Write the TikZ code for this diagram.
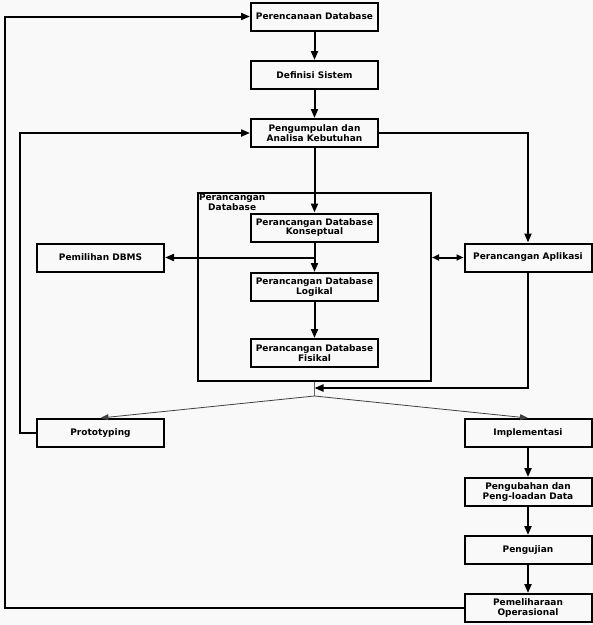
\documentclass[tikz,border=0pt]{standalone}
\usepackage{fontspec}
\setsansfont{DejaVu Sans}
\usetikzlibrary{arrows.meta}
\definecolor{paper}{RGB}{249,249,249}

\begin{document}
\begin{tikzpicture}[x=1pt, y=-1pt, line width=2pt, >={Triangle[length=9pt,width=7pt]},
    font=\sffamily\bfseries\fontsize{9}{9.5}\selectfont]
    \tikzstyle{stage}=[draw, fill=paper, minimum width=127pt, minimum height=28pt, inner sep=1pt, align=center]
    \tikzstyle{flow}=[->]
    \tikzstyle{thin flow}=[->, line width=0.8pt, draw=black!75, >={Triangle[length=8pt,width=6pt]}]
    \def\leftcol{100.5}
    \def\rightcol{528}
    \def\midcol{314.5}

    % Background and page size
    \fill[paper] (0,0) rectangle (593,625);
    \useasboundingbox (0,0) rectangle (593,625);

    % Draw the main column
    \node[stage] (plan) at (\midcol,16.5) {Perencanaan Database};
    \node[stage] (defsys) at (\midcol,75) {Definisi Sistem};
    \node[stage] (reqs) at (\midcol,133) {Pengumpulan dan\\Analisa Kebutuhan};

    % Draw the database design frame
    \node[draw, minimum width=233pt, minimum height=188pt] (frame) at (\midcol,287) {};
    \node[anchor=north west, align=center, inner sep=1pt] (framelabel) at (frame.north west) {Perancangan\\Database};

    % Draw the stages inside the frame
    \node[stage] (konsep) at (\midcol,227.5) {Perancangan Database\\Konseptual};
    \node[stage] (logika) at (\midcol,287) {Perancangan Database\\Logikal};
    \node[stage] (fisik) at (\midcol,353) {Perancangan Database\\Fisikal};

    % Draw the side stages
    \node[stage] (dbms) at (\leftcol,257.5) {Pemilihan DBMS};
    \node[stage] (aplikasi) at (\rightcol,257.5) {Perancangan Aplikasi};
    \node[stage] (proto) at (\leftcol,433) {Prototyping};

    % Draw the right column after the split
    \foreach \name/\y/\txt in {impl/433/{Implementasi}, ubah/492/{Pengubahan dan\\Peng-loadan Data},
        uji/550/{Pengujian}, pelihara/608/{Pemeliharaan\\Operasional}}
        \node[stage] (\name) at (\rightcol,\y) {\txt};

    % Join points and loop lanes
    \coordinate (branch) at (\midcol,257.5);
    \coordinate (merge) at (\midcol,388);
    \coordinate (split) at (\midcol,396);
    \coordinate (innerloop) at (20,0);
    \coordinate (outerloop) at (4.5,0);

    % Connect the stages one below the other
    \foreach \source/\dest in {plan/defsys, defsys/reqs, reqs/konsep, konsep/logika, logika/fisik,
        impl/ubah, ubah/uji, uji/pelihara}
        \path[flow] (\source) edge (\dest);

    % Side connections
    \draw[flow] (branch) -- (dbms);
    \draw[flow] (reqs.east) -| (aplikasi.north);
    \draw[<->, >={Triangle[length=7pt,width=6pt]}] (frame.east |- aplikasi) -- (aplikasi);
    \draw[flow] (aplikasi.south) |- (merge);

    % Split towards prototyping and implementation
    \draw[line width=0.8pt, draw=black!60] (frame.south) -- (split);
    \draw[thin flow] (split) -- (proto.north);
    \draw[thin flow] (split) -- (impl.north);

    % Feedback loops
    \draw[flow] (proto.west) -- (proto.west -| innerloop) |- (reqs.west);
    \draw[flow] (pelihara.west) -- (pelihara.west -| outerloop) |- (plan.west);

\end{tikzpicture}
\end{document}
